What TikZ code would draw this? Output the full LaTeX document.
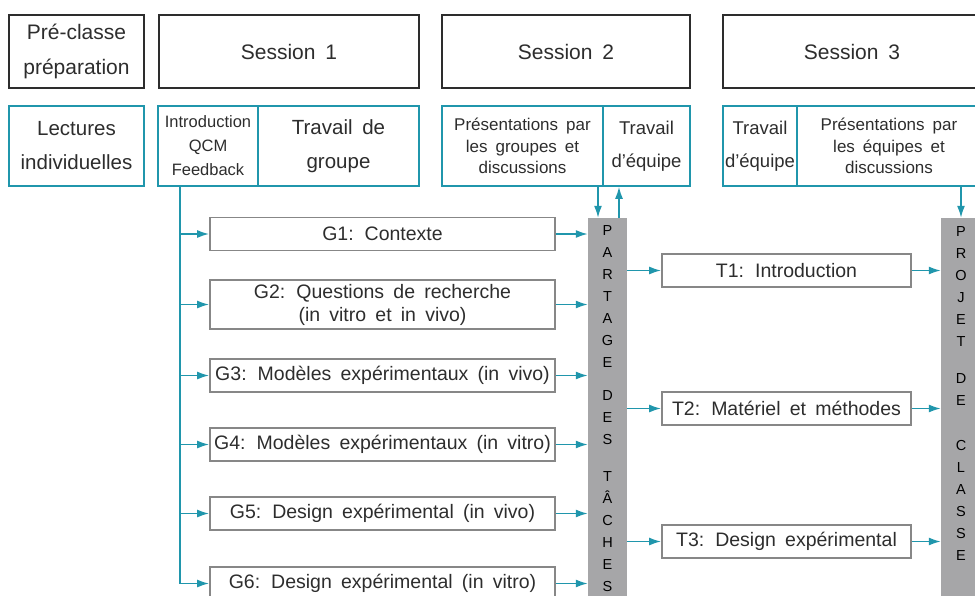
\documentclass[tikz,border=0pt]{standalone}
\usepackage{fontspec}
\setmainfont{Liberation Sans}[WordSpace=1.7]
\usetikzlibrary{arrows.meta}
\definecolor{sarcelle}{RGB}{32,150,172}
\definecolor{grisbord}{RGB}{135,135,135}
\definecolor{grisbarre}{RGB}{166,166,168}
\definecolor{encre}{RGB}{45,45,45}
\begin{document}
\begin{tikzpicture}[x=1pt,y=-1pt,
	entete/.style={draw=encre,line width=2pt,minimum height=73pt,text=encre,font=\fontsize{21}{35}\selectfont,align=center,inner sep=0pt},
	activite/.style={draw=sarcelle,line width=1.6pt,minimum height=80pt,text=encre,align=center,inner sep=0pt},
	tache/.style={draw=grisbord,line width=1.8pt,minimum width=345pt,minimum height=33pt,text=encre,font=\fontsize{19.5}{23}\selectfont,align=center,inner sep=0pt},
	barre/.style={fill=grisbarre,inner sep=0pt,minimum height=402pt},
	lettres/.style={anchor=north,inner sep=0pt,align=center,text=black,font=\fontsize{14.5}{22}\selectfont},
	fleche/.style={draw=sarcelle,line width=1.6pt,-{Latex[length=12pt,width=8pt,fill=sarcelle]}}]
	\useasboundingbox (0,0) rectangle (975,595);
	\clip (0,0) rectangle (975,595);
	% sessions
	\node[entete,minimum width=135pt] (prep) at (76.5,51.5) {Pré-classe\\préparation};
	\node[entete,minimum width=260pt] (s1) at (289,51.5) {Session 1};
	\node[entete,minimum width=248pt] (s2) at (566,51.5) {Session 2};
	\node[entete,minimum width=258pt] (s3) at (852,51.5) {Session 3};
	% activites
	\node[activite,minimum width=135pt,font=\fontsize{20.5}{34}\selectfont] (lect) at (76.5,146) {Lectures\\individuelles};
	\node[activite,minimum width=100pt,font=\fontsize{16.5}{24}\selectfont] (s1a) at (208,146) {Introduction\\QCM\\Feedback};
	\node[activite,minimum width=161pt,font=\fontsize{20.5}{34}\selectfont] (s1b) at (338.5,146) {Travail de\\groupe};
	\node[activite,minimum width=161pt,font=\fontsize{17}{21.5}\selectfont] (s2a) at (522.5,146) {Présentations par\\les groupes et\\discussions};
	\node[activite,minimum width=87pt,font=\fontsize{18.5}{33}\selectfont] (s2b) at (646.5,146) {Travail\\d’équipe};
	\node[activite,minimum width=74pt,font=\fontsize{18.5}{33}\selectfont] (s3a) at (760,146) {Travail\\d’équipe};
	\node[activite,minimum width=184pt,font=\fontsize{17}{21.5}\selectfont] (s3b) at (889,146) {Présentations par\\les équipes et\\discussions};
	% groupes
	\node[tache] (g1) at (382.5,234) {G1: Contexte};
	\node[tache,minimum height=49pt] (g2) at (382.5,304.5) {G2: Questions de recherche\\(in vitro et in vivo)};
	\node[tache] (g3) at (382.5,375.5) {G3: Modèles expérimentaux (in vivo)};
	\node[tache] (g4) at (382.5,444.5) {G4: Modèles expérimentaux (in vitro)};
	\node[tache] (g5) at (382.5,513.5) {G5: Design expérimental (in vivo)};
	\node[tache] (g6) at (382.5,583.5) {G6: Design expérimental (in vitro)};
	% barres
	\node[barre,minimum width=39pt] (partage) at (607.5,419) {};
	\node[lettres] (partage-txt) at (607.5,225) {P\\A\\R\\T\\A\\G\\E\\[11pt]D\\E\\S\\[15pt]T\\Â\\C\\H\\E\\S};
	\node[barre,minimum width=40pt] (projet) at (961,419) {};
	\node[lettres] (projet-txt) at (961,226) {P\\R\\O\\J\\E\\T\\[15pt]D\\E\\[23pt]C\\L\\A\\S\\S\\E};
	% equipes
	\node[tache,minimum width=249pt] (t1) at (786.5,270.5) {T1: Introduction};
	\node[tache,minimum width=249pt] (t2) at (786.5,408.5) {T2: Matériel et méthodes};
	\node[tache,minimum width=249pt] (t3) at (786.5,541.5) {T3: Design expérimental};
	% fleches
	\coordinate (tronc) at (180,0);
	\coordinate (desc) at (598,0);
	\coordinate (mont) at (619,0);
	\draw[sarcelle,line width=1.6pt] (s1a.south -| tronc) -- (tronc |- g6.west);
	\foreach \i in {1,...,6} {
		\draw[fleche] (tronc |- g\i.west) -- (g\i.west);
		\draw[fleche] (g\i.east) -- (partage.west |- g\i.east);
	}
	\foreach \i in {1,2,3} {
		\draw[fleche] (partage.east |- t\i.west) -- (t\i.west);
		\draw[fleche] (t\i.east) -- (projet.west |- t\i.east);
	}
	\draw[fleche] (s2a.south -| desc) -- (partage.north -| desc);
	\draw[fleche] (partage.north -| mont) -- (s2b.south -| mont);
	\draw[fleche] (s3b.south -| projet) -- (projet.north);
\end{tikzpicture}
\end{document}
